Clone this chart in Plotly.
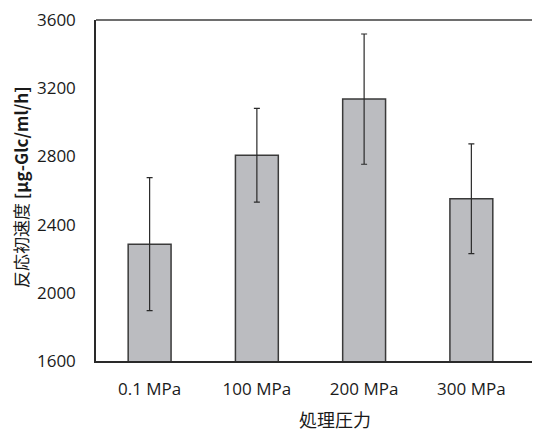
import plotly.graph_objects as go

categories = ["0.1 MPa", "100 MPa", "200 MPa", "300 MPa"]
values = [2285, 2807, 3136, 2552]
errors = [390, 275, 382, 322]
y_ticks = [1600, 2000, 2400, 2800, 3200, 3600]

# page body has an 8px margin, so offset the figure accordingly
OFF = 8
W, H = 540 - OFF, 431 - OFF
L, R, T, B = 96 - OFF, 0, 20 - OFF, 70
pw = W - L - R
ph = H - T - B

fig = go.Figure()
fig.add_trace(go.Bar(
    x=list(range(len(categories))), y=values,
    width=0.4,
    marker=dict(color="#bbbcc0", line=dict(color="#3a3a3a", width=1.5)),
    error_y=dict(type="data", array=errors, visible=True, color="#2a2a2a", thickness=1.2, width=3),
))

font_num = "Open Sans, Noto Sans CJK JP, sans-serif"
fig.update_layout(
    width=W, height=H,
    margin=dict(l=L, r=R, t=T, b=B),
    plot_bgcolor="white", paper_bgcolor="white",
    showlegend=False,
    font=dict(family=font_num, size=17, color="#1a1a1a"),
    xaxis=dict(
        range=[-0.5, 3.64],
        tickmode="array", tickvals=list(range(len(categories))), ticktext=categories,
        showgrid=False, zeroline=False,
        showline=True, linecolor="#2a2a2a", linewidth=2,
        ticks="", ticklabelstandoff=12, ticklabeloverflow="allow",
        tickfont=dict(family=font_num, size=17, color="#1a1a1a"),
    ),
    yaxis=dict(
        range=[1600, 3600],
        tickmode="array", tickvals=y_ticks, ticktext=[str(v) for v in y_ticks],
        showgrid=False, zeroline=False,
        showline=True, linecolor="#2a2a2a", linewidth=1.5,
        ticks="", ticklabelstandoff=15, ticklabeloverflow="allow",
        tickfont=dict(family=font_num, size=17, color="#1a1a1a"),
    ),
)

# top border line
fig.add_shape(type="line", xref="paper", yref="paper", x0=0, x1=1, y0=1, y1=1,
              line=dict(color="#6e6e6e", width=2))

fig.add_annotation(
    text="反応初速度 <b>[μg-Glc/ml/h]</b>", textangle=-90,
    xref="paper", yref="paper",
    x=(20 - 96) / pw, y=(361 - 187) / (361 - 20),
    showarrow=False, xanchor="center", yanchor="middle",
    font=dict(family="Noto Sans CJK JP, Open Sans, sans-serif", size=17, color="#1a1a1a"),
)
fig.add_annotation(
    text="処理圧力",
    xref="paper", yref="paper",
    x=(335 - 96) / pw, y=-(419 - 361) / (361 - 20),
    showarrow=False, xanchor="center", yanchor="middle",
    font=dict(family="Noto Sans CJK JP, sans-serif", size=18, color="#1a1a1a"),
)

fig.write_html("out.html")
